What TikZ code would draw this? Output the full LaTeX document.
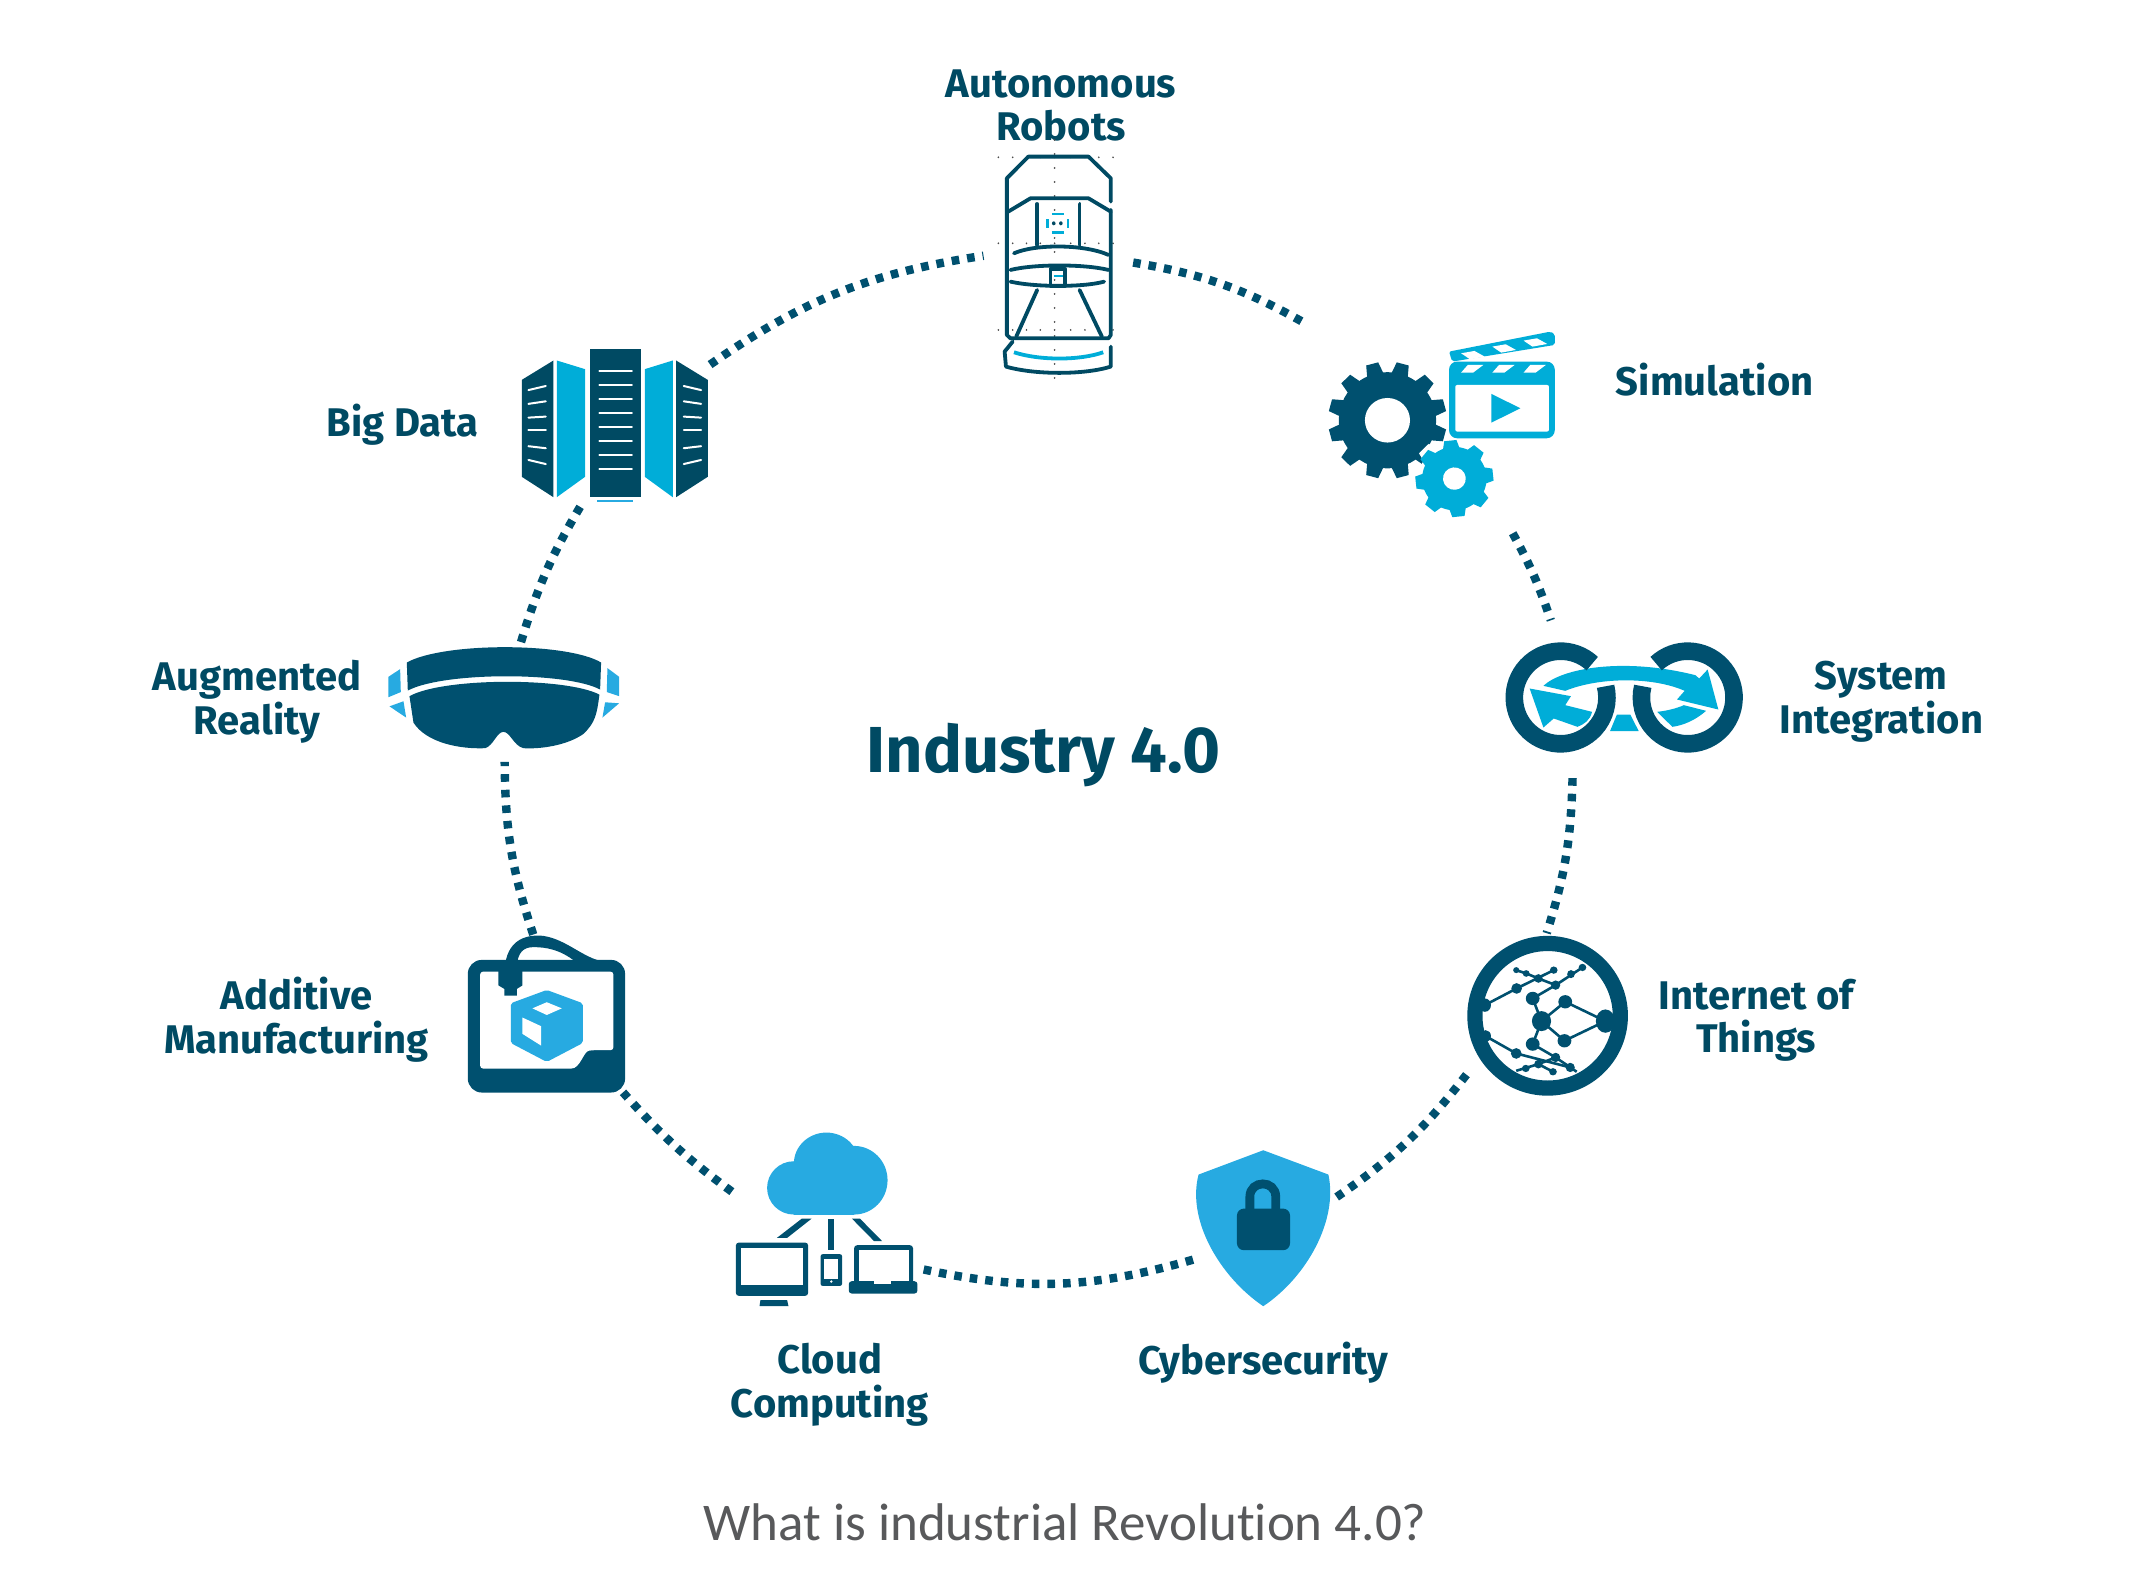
\documentclass[tikz,border=0pt]{standalone}
\usepackage{fontspec}
\setmainfont{Fira Sans}
\newfontfamily\capfont[Ligatures=NoCommon]{Carlito}
\definecolor{deep}{HTML}{00506F}
\definecolor{ink}{HTML}{004A63}
\definecolor{cyan1}{HTML}{00ADD8}
\definecolor{sky}{HTML}{27AAE1}
\definecolor{capgray}{HTML}{58595B}
\tikzstyle{lbl}=[text=ink,font=\fontsize{20}{21.8}\selectfont\bfseries,align=center,inner sep=0pt]
\tikzstyle{link}=[draw=deep,line width=4.2pt,dash pattern=on 3.8pt off 4pt]
\tikzstyle{carline}=[draw=ink,line width=1.9pt,line cap=round,line join=round]
\newcommand{\gearshape}[3]{%
  \pgfmathsetmacro{\gp}{360/#1}
  \fill[#2] (0,0) circle (0.82);
  \foreach \a in {1,...,#1} {
    \fill[#2] ({(\a+#3-.36)*\gp}:.78) -- ({(\a+#3-.2)*\gp}:1) -- ({(\a+#3+.2)*\gp}:1) -- ({(\a+#3+.36)*\gp}:.78) -- cycle;
  }
}
\begin{document}
\begin{tikzpicture}[x=0.68pt,y=-0.68pt]
    \useasboundingbox (0,0) rectangle (1568,1167);

    % labels
    \node[lbl] (auto) at (780,77.5) {Autonomous\\Robots};
    \node[lbl] (simu) at (1260.5,279) {Simulation};
    \node[lbl] (syst) at (1383,516) {System\\Integration};
    \node[lbl] (iot) at (1291,750) {Internet of\\Things};
    \node[lbl] (cyber) at (929,1002) {Cybersecurity};
    \node[lbl] (cloud) at (610,1018) {Cloud\\Computing};
    \node[lbl] (addi) at (218,749.5) {Additive\\Manufacturing};
    \node[lbl] (augm) at (189,516) {Augmented\\Reality};
    \node[lbl] (big) at (296,312) {Big Data};
    \node[text=ink,font=\fontsize{32.5}{36}\selectfont\bfseries,inner sep=0pt] (title) at (767,555) {Industry 4.0};
    \node[text=capgray,font=\capfont\fontsize{26.5}{29}\selectfont,inner sep=0pt] (caption) at (783,1119) {What is industrial Revolution 4.0?};

    % ends of the ring pieces
    \coordinate (c0) at (833,193);
    \coordinate (c1) at (960,238);
    \coordinate (c2) at (1112,392);
    \coordinate (c3) at (1140,456);
    \coordinate (c4) at (1156,572);
    \coordinate (c5) at (1137,686);
    \coordinate (c6) at (1078,790);
    \coordinate (c7) at (981,881);
    \coordinate (c8) at (877,926);
    \coordinate (c9) at (678,933);
    \coordinate (c10) at (538,876);
    \coordinate (c11) at (458,803);
    \coordinate (c12) at (392,687);
    \coordinate (c13) at (371,560);
    \coordinate (c14) at (383,472);
    \coordinate (c15) at (428,370);
    \coordinate (c16) at (522,268);
    \coordinate (c17) at (723,188);

    % ring
    \draw [link,bend left=10] (c0) to (c1);
    \draw [link,bend left=5] (c2) to (c3);
    \draw [link,bend left=8] (c4) to (c5);
    \draw [link,bend left=9] (c6) to (c7);
    \draw [link,bend left=14] (c8) to (c9);
    \draw [link,bend left=6] (c10) to (c11);
    \draw [link,bend left=9] (c12) to (c13);
    \draw [link,bend left=7] (c14) to (c15);
    \draw [link,bend left=13] (c16) to (c17);

    % car
    \begin{scope}[shift={(698.5,29.4)},xscale=.328,yscale=.245]
        \foreach \y in {300,342,...,1040} \fill[black!70] (234,\y) circle (2 and 3);
        \foreach \y in {352,610,870}
            \foreach \x in {108,140,171,202,234,270,302,333,365} \fill[black!70] (\x,\y) circle (2 and 3);
        \draw[carline] (360,485) -- (360,415) -- (310,350) -- (175,350) -- (127,415) -- (127,885) -- (135,895) -- (355,895) -- (360,885) -- (360,510);
        \draw[carline] (130,515) -- (180,475) -- (310,475) -- (360,515);
        \draw[carline] (195,492) -- (195,615);
        \draw[carline] (290,492) -- (290,615);
        \draw[carline] (143,640) .. controls (190,612) and (300,612) .. (355,645);
        \draw[carline] (135,690) .. controls (190,672) and (300,672) .. (355,690);
        \draw[carline] (135,725) .. controls (190,742) and (300,742) .. (345,725);
        \draw[carline] (225,688) rectangle (258,738);
        \draw[carline] (195,750) -- (148,890);
        \draw[carline] (290,750) -- (340,890);
        \draw[carline] (140,905) -- (122,935) -- (125,980) .. controls (190,1005) and (300,1005) .. (360,980) -- (360,920);
        \draw[cyan1,line width=1.9pt] (143,937) .. controls (200,962) and (290,962) .. (343,937);
        \draw[cyan1,line width=1.4pt] (228,522) -- (254,522) (228,578) -- (254,578) (218,538) -- (218,564) (264,538) -- (264,564) (232,708) -- (252,708);
        \fill[ink] (232,550) circle (4 and 6) (248,550) circle (4 and 6);
    \end{scope}

    % gears and clapper
    \begin{scope}[shift={(698.5,29.4)},xscale=.328,yscale=.245]
        \begin{scope}[shift={(980,1141)},xscale=133,yscale=176]
            \gearshape{12}{deep}{.5}
            \fill[white] (0,0) circle (.38);
        \end{scope}
        \begin{scope}[shift={(1130,1316)},xscale=98,yscale=129]
            \gearshape{8}{white}{0}
        \end{scope}
        \begin{scope}[shift={(1130,1316)},xscale=88,yscale=116,rotate=6]
            \gearshape{8}{cyan1}{0}
            \fill[white] (0,0) circle (.29);
        \end{scope}
        \fill[cyan1,rounded corners=4pt] (1118,965) rectangle (1355,1195);
        \fill[white,rounded corners=1pt] (1132,1035) rectangle (1342,1175);
        \fill[cyan1] (1213,1062) -- (1278,1105) -- (1213,1148) -- cycle;
        \foreach \x in {0,70,140} \fill[white] (1160+\x,975) -- (1195+\x,975) -- (1172+\x,998) -- (1145+\x,998) -- cycle;
        \fill[cyan1,rounded corners=1pt] (1118,935) -- (1345,875) -- (1355,882) -- (1355,915) -- (1125,965) -- cycle;
        \foreach \x/\y in {0/0,70/-20,140/-38} \fill[white] (1145+\x,940+\y) -- (1175+\x,933+\y) -- (1198+\x,950+\y) -- (1165+\x,958+\y) -- cycle;
    \end{scope}

    % system integration
    \begin{scope}[shift={(1066.2,455.9)},xscale=.2814,yscale=.245]
        \fill[cyan1] (243,197) .. controls (290,145) and (450,110) .. (640,165) -- (650,175) -- (672,148) -- (700,268) -- (592,238) -- (612,212) .. controls (530,170) and (390,170) .. (300,212) -- cycle;
        \fill[cyan1] (207,205) -- (315,228) -- (300,255) -- (370,275) .. controls (365,300) and (350,312) .. (332,320) -- (270,295) -- (243,322) -- cycle;
        \fill[cyan1] (610,255) -- (668,272) .. controls (640,300) and (610,315) .. (580,320) -- (540,275) .. controls (565,272) and (590,265) .. (610,255) -- cycle;
        \fill[cyan1] (435,283) -- (470,283) -- (492,333) -- (417,333) -- cycle;
        \draw[deep,line width=8.8pt] ([shift={(288,232)}]-47:121 and 139) arc[start angle=-47,end angle=-374,x radius=121,y radius=139];
        \draw[deep,line width=8.8pt] ([shift={(620,232)}]227:121 and 139) arc[start angle=227,end angle=554,x radius=121,y radius=139];

        % internet of things
        \draw[deep,line width=7.6pt] (254,1187) ellipse (190 and 217);
        \foreach \a/\b/\c/\d in {405/1203/300/1145,405/1203/298/1262,300/1145/238/1203,298/1262/238/1203,215/1135/238/1203,215/1272/238/1203,215/1135/275/1095,275/1095/345/1042,90/1155/173/1105,173/1105/270/1050,198/1060/172/1050,198/1060/230/1075,230/1075/275/1095,92/1248/172/1300,172/1300/313/1342,215/1272/275/1312,275/1312/330/1355,172/1352/230/1332,230/1332/275/1312,230/1332/268/1355}
            \draw[deep,line width=1.3pt] (\a,\b) -- (\c,\d);
        \foreach \x/\y/\rx/\ry in {238/1203/25/30,405/1203/25/35,215/1135/18/20,300/1145/18/20,215/1272/18/20,298/1262/18/20,173/1105/14/16,275/1095/12/14,230/1075/11/13,315/1062/10/12,345/1042/10/11,270/1050/10/11,198/1060/9/10,172/1050/8/9,90/1155/16/20,92/1248/14/18,172/1300/14/16,275/1312/12/14,230/1332/11/13,313/1342/12/14,197/1345/10/11,268/1355/10/11}
            \fill[deep] (\x,\y) ellipse [x radius=\rx,y radius=\ry];
    \end{scope}

    % shield and cloud
    \begin{scope}[shift={(514.7,823.5)},xscale=.328,yscale=.245]
        \fill[sky] (1262,90) -- (1408,163) .. controls (1430,300) and (1360,470) .. (1262,558) .. controls (1165,470) and (1090,300) .. (1117,163) -- cycle;
        \fill[deep,rounded corners=3.5pt] (1203,265) rectangle (1322,390);
        \draw[deep,line width=4.4pt] (1232,270) -- (1232,230) .. controls (1232,178) and (1290,178) .. (1290,230) -- (1290,270);

        \fill[sky] (210,203) ellipse (60 and 80);
        \fill[sky] (283,130) ellipse (73 and 93);
        \fill[sky] (345,180) ellipse (75 and 103);
        \fill[sky] (210,200) rectangle (345,283);
        \fill[deep] (228,295) -- (250,295) -- (195,353) -- (172,353) -- cycle;
        \fill[deep] (287,295) rectangle (300,390);
        \fill[deep] (340,295) -- (358,295) -- (408,363) -- (390,363) -- cycle;
        \fill[deep,rounded corners=1.5pt] (80,367) rectangle (242,527);
        \fill[white] (92,382) rectangle (230,495);
        \fill[deep] (133,558) -- (198,558) -- (195,540) -- (135,540) -- cycle;
        \fill[deep,rounded corners=1pt] (270,402) rectangle (318,497);
        \fill[white] (278,416) rectangle (310,475);
        \fill[white] (294,484) ellipse (3 and 4);
        \fill[deep,rounded corners=1.5pt] (345,375) rectangle (477,490);
        \fill[white] (357,390) rectangle (467,482);
        \fill[deep,rounded corners=1.5pt] (333,483) rectangle (487,520);
        \fill[white] (390,483) rectangle (428,492);
    \end{scope}

    % additive, glasses, servers
    \begin{scope}[shift={(272.1,250)},xscale=.245,yscale=.375]
        \fill[deep,rounded corners=7pt] (293,1215) rectangle (765,1475);
        \fill[white,rounded corners=1.5pt] (330,1238) -- (730,1238) -- (730,1392) -- (665,1392) .. controls (640,1395) and (630,1428) .. (595,1428) -- (330,1428) -- cycle;
        \fill[deep] (405,1225) .. controls (415,1170) and (480,1165) .. (520,1168) .. controls (590,1175) and (640,1212) .. (700,1218) -- (615,1218) .. controls (570,1195) and (530,1190) .. (490,1190) .. controls (460,1190) and (442,1200) .. (440,1230) -- cycle;
        \fill[deep] (385,1235) -- (457,1235) -- (457,1265) -- (440,1272) -- (440,1285) -- (403,1285) -- (403,1272) -- (385,1265) -- cycle;
        \fill[sky,rounded corners=1pt] (422,1300) -- (530,1274) -- (638,1300) -- (638,1378) -- (530,1415) -- (422,1378) -- cycle;
        \fill[white] (487,1310) -- (530,1298) -- (575,1310) -- (530,1323) -- cycle;
        \fill[white] (457,1328) -- (513,1345) -- (513,1383) -- (457,1360) -- cycle;

        \fill[deep] (110,632) .. controls (220,592) and (590,592) .. (693,632) -- (690,685) .. controls (590,650) and (220,650) .. (113,687) -- cycle;
        \fill[deep] (118,698) .. controls (220,661) and (590,661) .. (688,695) .. controls (680,735) and (675,750) .. (640,772) .. controls (590,795) and (510,802) .. (460,800) .. controls (430,795) and (420,768) .. (400,768) .. controls (380,768) and (370,795) .. (345,800) .. controls (270,802) and (170,790) .. (130,750) -- cycle;
        \fill[sky] (55,660) -- (90,645) -- (92,690) -- (55,700) -- cycle;
        \fill[sky] (58,718) -- (100,708) -- (108,740) -- cycle;
        \fill[sky] (712,643) -- (747,660) -- (747,698) -- (710,690) -- cycle;
        \fill[sky] (705,710) -- (747,712) -- (697,740) -- cycle;

        \fill[ink] (455,78) -- (550,40) -- (550,308) -- (455,268) -- cycle;
        \fill[cyan1] (560,40) -- (645,57) -- (645,268) -- (560,308) -- cycle;
        \fill[ink] (660,17) rectangle (812,308);
        \fill[cyan1] (824,57) -- (908,40) -- (908,308) -- (824,268) -- cycle;
        \fill[ink] (918,40) -- (1013,78) -- (1013,268) -- (918,308) -- cycle;
        \draw[sky,line width=.8pt] (682,315) -- (790,315);
        \foreach \y in {60,88,115,143,170,198,225,253} \draw[white,line width=1pt,line cap=round] (688,\y) -- (785,\y);
        \foreach \p/\q in {98/90,125/120,152/150,177/177,208/212,235/243} {
            \draw[white,line width=1pt,line cap=round] (475,\p) -- (527,\q);
            \draw[white,line width=1pt,line cap=round] (993,\p) -- (941,\q);
        }
    \end{scope}
\end{tikzpicture}
\end{document}
